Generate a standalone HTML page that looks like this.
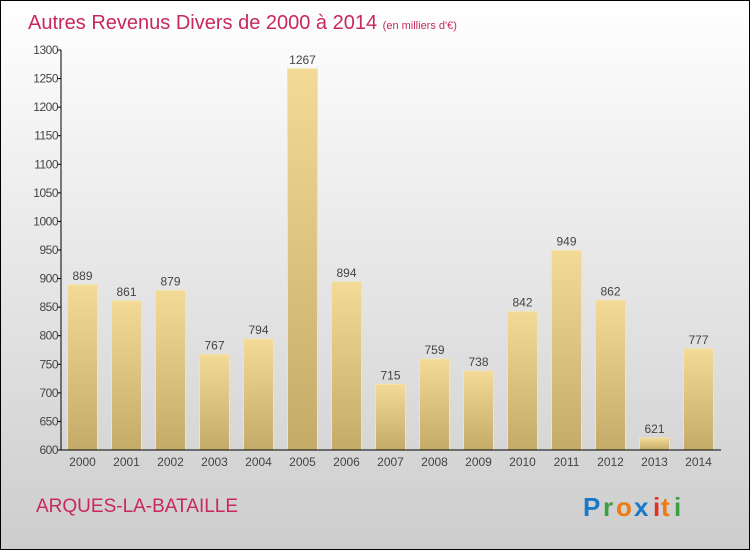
<!DOCTYPE html>
<html><head><meta charset="utf-8"><style>
body{margin:0}
svg text{font-family:"Liberation Sans",sans-serif}
</style></head><body>
<svg id="c" width="750" height="550" xmlns="http://www.w3.org/2000/svg">
<defs>
<linearGradient id="bg" x1="0" y1="0" x2="0" y2="1"><stop offset="0" stop-color="#ffffff"/><stop offset="1" stop-color="#cdcdcd"/></linearGradient>
<linearGradient id="bar" x1="0" y1="0" x2="0" y2="1"><stop offset="0" stop-color="#f3da96"/><stop offset="1" stop-color="#c4ab68"/></linearGradient>
</defs>
<rect x="0.5" y="0.5" width="749" height="549" fill="url(#bg)" stroke="#000"/>
<text x="28" y="29" font-size="20" fill="#c8285a">Autres Revenus Divers de 2000 à 2014 <tspan font-size="11">(en milliers d'€)</tspan></text>
<g id="bars"></g>
<g id="axes"></g>
<text x="36" y="512" font-size="19" fill="#c8285a">ARQUES-LA-BATAILLE</text>
<g font-size="26" font-weight="bold">
<text x="583" y="516" fill="#1b78c8">P</text><text x="603" y="516" fill="#3aa040">r</text><text x="616" y="516" fill="#f07a10">o</text><text x="634" y="516" fill="#1b78c8">x</text><text x="653" y="516" fill="#e03020">i</text><text x="661" y="516" fill="#f07a10">t</text><text x="674" y="516" fill="#3aa040">i</text>
</g>
</svg>
<script>
const years=["2000","2001","2002","2003","2004","2005","2006","2007","2008","2009","2010","2011","2012","2013","2014"];
const values=[889,861,879,767,794,1267,894,715,759,738,842,949,862,621,777];
const yTicks=[600,650,700,750,800,850,900,950,1000,1050,1100,1150,1200,1250,1300];
const NS="http://www.w3.org/2000/svg";
const x0=61,x1=721,yTop=50,yBot=450,vMin=600,vMax=1300;
const y=v=>yBot-(v-vMin)/(vMax-vMin)*(yBot-yTop);
const step=(x1-x0)/years.length;
const xc=i=>x0+step*(i+0.5)-0.5;
function mk(t,a,p){const e=document.createElementNS(NS,t);for(const k in a)e.setAttribute(k,a[k]);p.appendChild(e);return e;}
const bars=document.getElementById('bars'),axes=document.getElementById('axes');
values.forEach((v,i)=>{
 const r=mk('rect',{x:xc(i)-15,y:y(v),width:30,height:yBot-y(v),fill:'url(#bar)',stroke:'#f5e3a8','stroke-width':1},bars);
 
 
 const t=mk('text',{x:xc(i),y:y(v)-5,'text-anchor':'middle','font-size':12,fill:'#444'},bars);
 t.textContent=v;
 
 
 const xl=mk('text',{x:xc(i),y:466,'text-anchor':'middle','font-size':12,fill:'#444'},axes);
 xl.textContent=years[i];
 
 
});
const ya=mk('line',{x1:x0,y1:yTop,x2:x0,y2:yBot,stroke:'#000'},axes);


const xa=mk('line',{x1:x0,y1:yBot,x2:x1,y2:yBot,stroke:'#000'},axes);


yTicks.forEach(v=>{
 mk('line',{x1:x0-3,y1:y(v),x2:x0,y2:y(v),stroke:'#000'},axes);
 const t=mk('text',{x:x0-3,y:y(v)+4,'text-anchor':'end','font-size':12,fill:'#444','letter-spacing':'-0.5'},axes);
 t.textContent=v;
 
 
});
</script>
</body></html>
